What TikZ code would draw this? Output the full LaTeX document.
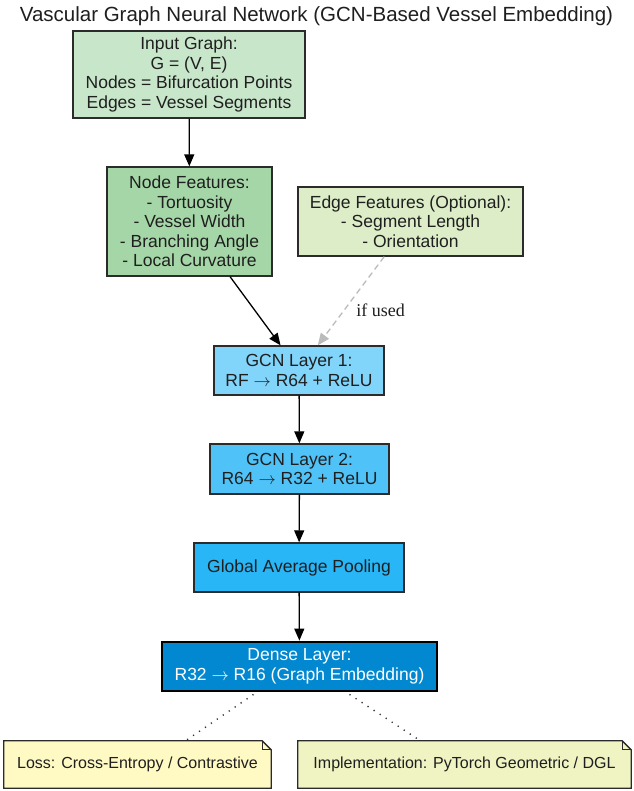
\documentclass[tikz,border=0pt]{standalone}
\usepackage{fontspec}
\setmainfont{Liberation Sans}
\newfontfamily\labelserif{Liberation Serif}
\newcommand{\flowarrow}{$\rightarrow$}
\usetikzlibrary{arrows.meta,calc}
\definecolor{cinput}{HTML}{C8E6C9}
\definecolor{cnodef}{HTML}{A5D6A7}
\definecolor{cedgef}{HTML}{DCEDC8}
\definecolor{cgcnA}{HTML}{81D4FA}
\definecolor{cgcnB}{HTML}{4FC3F7}
\definecolor{cgap}{HTML}{29B6F6}
\definecolor{cdense}{HTML}{0288D1}
\definecolor{closs}{HTML}{FFF9C4}
\definecolor{cimpl}{HTML}{F0F4C3}
\definecolor{cborder}{HTML}{2B2B2B}
\definecolor{cdash}{HTML}{BBBBBB}
\tikzset{
  boxnode/.style={draw=cborder, line width=1.3pt, rectangle, inner sep=0pt, align=center,
    font=\fontsize{17.5}{19.5}\selectfont, text=black!88},
  notenode/.style={rectangle, inner sep=0pt, align=center, font=\fontsize{16}{19}\selectfont, text=black!88},
  flow/.style={line width=1.3pt, -{Triangle[length=12pt,width=10pt]}},
  optflow/.style={line width=1.3pt, draw=cdash, dash pattern=on 6pt off 4pt, -{Triangle[length=12pt,width=10pt]}},
  dotlink/.style={line width=1.4pt, draw=black!80, dash pattern=on 1.2pt off 6pt},
  noteline/.style={draw=cborder, line width=1.3pt, line join=miter}
}
\begin{document}
\begin{tikzpicture}[x=1pt,y=-1pt]
\path[use as bounding box, fill=white] (0,0) rectangle (633,791);

\node[anchor=base, font=\fontsize{20.5}{24}\selectfont, text=black!88] (title) at (316.5,22) {Vascular Graph Neural Network (GCN-Based Vessel Embedding)};

\node[boxnode, fill=cinput, minimum width=232pt, minimum height=87pt] (input) at (189,74.5)
  {Input Graph:\\G = (V, E)\\Nodes = Bifurcation Points\\Edges = Vessel Segments};
\node[boxnode, fill=cnodef, minimum width=165pt, minimum height=109pt] (nodef) at (189.5,221.5)
  {Node Features:\\- Tortuosity\\- Vessel Width\\- Branching Angle\\- Local Curvature};
\node[boxnode, fill=cedgef, minimum width=225pt, minimum height=69pt] (edgef) at (410.5,221.5)
  {Edge Features (Optional):\\- Segment Length\\- Orientation};
\node[boxnode, fill=cgcnA, minimum width=170pt, minimum height=49pt] (gcn1) at (299,370.5)
  {GCN Layer 1:\\RF \flowarrow{} R64 + ReLU};
\node[boxnode, fill=cgcnB, minimum width=179pt, minimum height=50pt] (gcn2) at (299.5,469)
  {GCN Layer 2:\\R64 \flowarrow{} R32 + ReLU};
\node[boxnode, fill=cgap, minimum width=210pt, minimum height=49pt] (gap) at (299,567.5)
  {Global Average Pooling};
\node[boxnode, fill=cdense, draw=black, line width=2.8pt, text=white, minimum width=275pt, minimum height=49pt] (dense) at (299.5,666.5)
  {Dense Layer:\\R32 \flowarrow{} R16 (Graph Embedding)};

% notes
\node[notenode, minimum width=267pt, minimum height=47pt] (loss) at (137.5,764.5) {};
\node[notenode, minimum width=333pt, minimum height=47pt] (impl) at (464.5,764.5) {};
\foreach \n/\c in {loss/closs, impl/cimpl}{
  \draw[noteline, fill=\c] (\n.north west) -- ($(\n.north east)+(-9,0)$) -- ($(\n.north east)+(0,9)$) -- (\n.south east) -- (\n.south west) -- cycle;
  \draw[noteline] ($(\n.north east)+(-9,0)$) -- ($(\n.north east)+(-9,9)$) -- ($(\n.north east)+(0,9)$);
}
\node[notenode] (losstext) at (loss.center) {Loss: Cross-Entropy / Contrastive};
\node[notenode] (impltext) at (impl.center) {Implementation: PyTorch Geometric / DGL};

% connectors
\draw[flow] (input) -- (nodef);
\draw[flow] (nodef) -- (gcn1);
\draw[optflow] (edgef) -- (gcn1);
\node[font=\labelserif\fontsize{18}{20}\selectfont, text=black!88] (iflabel) at (380.5,310.5) {if used};
\draw[flow] (gcn1) -- (gcn2);
\draw[flow] (gcn2) -- (gap);
\draw[flow] (gap) -- (dense);
\draw[dotlink] ($(dense.south)+(-46,2)$) -- ($(loss.north)+(48,0)$);
\draw[dotlink] ($(dense.south)+(50,2)$) -- ($(impl.north)+(-44,0)$);
\end{tikzpicture}
\end{document}
